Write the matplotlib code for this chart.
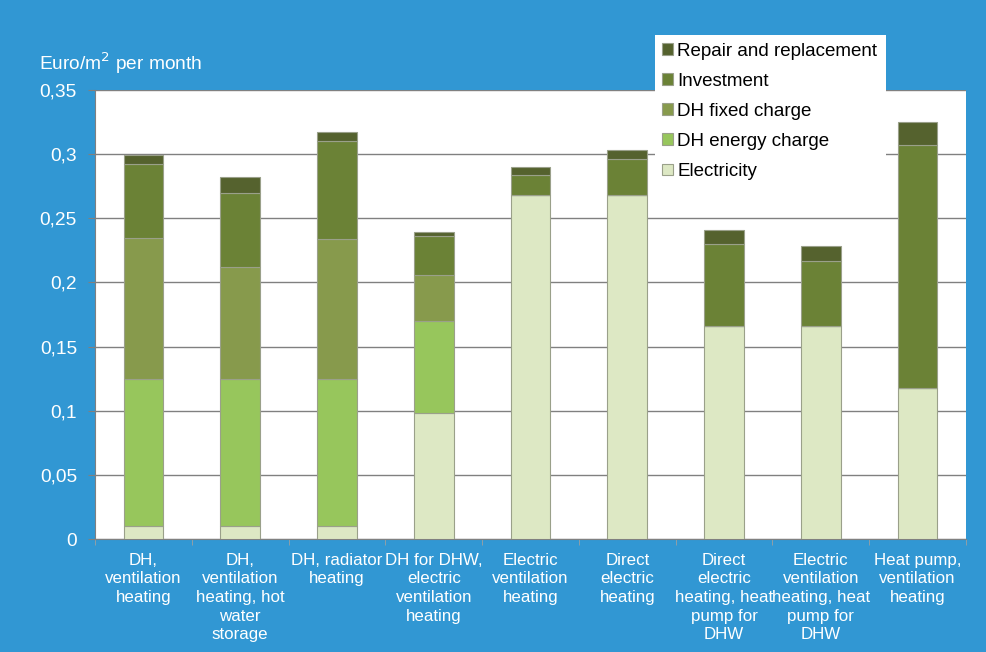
import numpy as np
import matplotlib
matplotlib.use("Agg")
from matplotlib import pyplot as plt
from matplotlib.patches import Rectangle

plt.rcParams['font.family'] = ['Liberation Sans', 'DejaVu Sans']

categories = ["DH,\nventilation\nheating",
              "DH,\nventilation\nheating, hot\nwater\nstorage",
              "DH, radiator\nheating",
              "DH for DHW,\nelectric\nventilation\nheating",
              "Electric\nventilation\nheating",
              "Direct\nelectric\nheating",
              "Direct\nelectric\nheating, heat\npump for\nDHW",
              "Electric\nventilation\nheating, heat\npump for\nDHW",
              "Heat pump,\nventilation\nheating"]

electricity = [0.010, 0.010, 0.010, 0.098, 0.268, 0.268, 0.166, 0.166, 0.118]
dh_energy = [0.115, 0.115, 0.115, 0.072, 0.0, 0.0, 0.0, 0.0, 0.0]
dh_fixed = [0.110, 0.087, 0.109, 0.036, 0.0, 0.0, 0.0, 0.0, 0.0]
investment = [0.057, 0.058, 0.076, 0.030, 0.016, 0.028, 0.064, 0.051, 0.189]
repair = [0.007, 0.012, 0.007, 0.003, 0.006, 0.007, 0.011, 0.011, 0.018]

series = [("Electricity", electricity, "#dde8c4"),
          ("DH energy charge", dh_energy, "#97c65c"),
          ("DH fixed charge", dh_fixed, "#879a4c"),
          ("Investment", investment, "#6b8236"),
          ("Repair and replacement", repair, "#55622e")]

bg = "#3197d3"
fig = plt.figure(figsize=(9.87, 6.52), dpi=100, facecolor=bg)
ax = fig.add_axes([0.0963, 0.1733, 0.8824, 0.6887])
ax.set_facecolor("white")

x = np.arange(len(categories))
bottom = np.zeros(len(categories))
handles = []
for name, vals, col in series:
    vals = np.array(vals)
    b = ax.bar(x, vals, width=0.41, bottom=bottom, color=col,
               edgecolor="#9aa08a", linewidth=0.8, label=name, zorder=3)
    handles.append(b)
    bottom += vals

ax.set_xlim(-0.5, len(categories) - 0.5)
ax.set_ylim(0, 0.35)
yt = np.arange(0, 0.351, 0.05)
ax.set_yticks(yt)
ax.set_yticklabels(["0", "0,05", "0,1", "0,15", "0,2", "0,25", "0,3", "0,35"])
ax.yaxis.grid(True, color="#808080", linewidth=1.0, zorder=0)
ax.tick_params(axis="y", colors="#808080", labelcolor="white", labelsize=13.8,
               length=5, pad=8)
ax.set_xticks(x)
ax.set_xticklabels(categories, color="white", fontsize=12.2, linespacing=1.3)
ax.set_xticks(np.arange(-0.5, len(categories)), minor=True)
ax.tick_params(axis="x", which="major", length=0, pad=10)
ax.tick_params(axis="x", which="minor", length=4, colors="#a0a0a0")
for side in ["top", "right"]:
    ax.spines[side].set_visible(False)
ax.spines["left"].set_color("#808080")
ax.spines["bottom"].set_color("#808080")

fig.text(0.040, 0.903, "Euro/m$^2$ per month", color="white", fontsize=13.8,
         va="center")

# white panel behind the legend, reaching up into the blue margin
fig.patches.append(Rectangle((655 / 987, 1 - 205 / 652), 231 / 987, 170 / 652,
                             transform=fig.transFigure, facecolor="white",
                             edgecolor="none", zorder=1))

leg = fig.legend(handles[::-1], [s[0] for s in series][::-1],
                 loc="upper left", bbox_to_anchor=(655 / 987, 1 - 36 / 652),
                 fontsize=13.5, frameon=False,
                 handlelength=0.6, handleheight=0.6, handletextpad=0.25,
                 labelspacing=0.7, borderpad=0.35, borderaxespad=0)
leg.set_zorder(5)

fig.savefig("out.png", dpi=100, facecolor=bg)
